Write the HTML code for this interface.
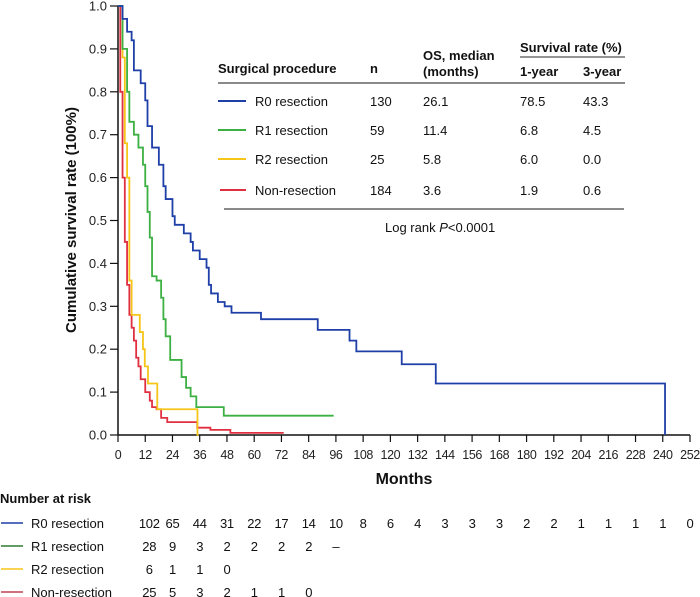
<!DOCTYPE html>
<html><head><meta charset="utf-8"><style>
html,body{margin:0;padding:0;background:#fff;}
svg{display:block;font-family:"Liberation Sans",Arial,sans-serif;}
</style></head><body>
<svg id="chart" width="700" height="597" viewBox="0 0 700 597">
<g id="axes"></g>
<g id="curves"></g>
<g id="legend" font-size="13" fill="#111">
  <text x="218" y="73" font-weight="bold">Surgical procedure</text>
  <text x="370" y="73" font-weight="bold">n</text>
  <text x="423" y="60" font-weight="bold">OS, median</text>
  <text x="423" y="76" font-weight="bold">(months)</text>
  <text x="520" y="52" font-weight="bold">Survival rate (%)</text>
  <line x1="520" y1="57" x2="625" y2="57" stroke="#555" stroke-width="1.2"/>
  <text x="520" y="76" font-weight="bold">1-year</text>
  <text x="583" y="76" font-weight="bold">3-year</text>
  <line x1="218" y1="83" x2="625" y2="83" stroke="#444" stroke-width="1.2"/>
  <g>
    <line x1="218" y1="101" x2="246" y2="101" stroke="#1f3fa8" stroke-width="2"/>
    <text x="255" y="106">R0 resection</text><text x="370" y="106">130</text><text x="423" y="106">26.1</text><text x="520" y="106">78.5</text><text x="583" y="106">43.3</text>
  </g>
  <g>
    <line x1="218" y1="130" x2="246" y2="130" stroke="#3cb043" stroke-width="2"/>
    <text x="255" y="135">R1 resection</text><text x="370" y="135">59</text><text x="423" y="135">11.4</text><text x="520" y="135">6.8</text><text x="583" y="135">4.5</text>
  </g>
  <g>
    <line x1="218" y1="159" x2="246" y2="159" stroke="#f5c518" stroke-width="2"/>
    <text x="255" y="164">R2 resection</text><text x="370" y="164">25</text><text x="423" y="164">5.8</text><text x="520" y="164">6.0</text><text x="583" y="164">0.0</text>
  </g>
  <g>
    <line x1="220" y1="190" x2="246" y2="190" stroke="#e03040" stroke-width="2"/>
    <text x="255" y="195">Non-resection</text><text x="370" y="195">184</text><text x="423" y="195">3.6</text><text x="520" y="195">1.9</text><text x="583" y="195">0.6</text>
  </g>
  <line x1="224" y1="209" x2="624" y2="209" stroke="#444" stroke-width="1.2"/>
  <text x="385" y="232">Log rank <tspan font-style="italic">P</tspan>&lt;0.0001</text>
</g>
<g id="risk" font-size="13" fill="#111"></g>
</svg>
<script>
const xTicks=[0,12,24,36,48,60,72,84,96,108,120,132,144,156,168,180,192,204,216,228,240,252];
const yTicks=[0,0.1,0.2,0.3,0.4,0.5,0.6,0.7,0.8,0.9,1.0];
const r0T=[0,2,4,6,7,10,12,13,15,18,20,21,24,25,29,32,33,36,39,40,41,44,47,50,63,88,102,105,125,140,241];
const r0S=[1,0.97,0.94,0.92,0.85,0.82,0.78,0.72,0.67,0.63,0.58,0.55,0.51,0.49,0.47,0.45,0.43,0.41,0.39,0.35,0.33,0.31,0.30,0.285,0.27,0.245,0.22,0.195,0.165,0.12,0];
const r1T=[0,2,4,5,7,9,11,12,13,14,15,17,19,20,21,23,28,30,32,34.5,46.6,95];
const r1S=[1,0.9,0.8,0.73,0.70,0.67,0.63,0.58,0.52,0.46,0.37,0.36,0.32,0.27,0.23,0.175,0.135,0.11,0.09,0.065,0.045,0.045];
const r2T=[0,2,3,4,5,6,9.6,11,11.8,13.2,17.3,35,35.5];
const r2S=[1,0.88,0.68,0.6,0.36,0.28,0.24,0.2,0.16,0.12,0.06,0,0];
const nrT=[0,1,2,3,4,5,6,7,8,9,10,12,14,15,17,19,21.7,34.9,40.7,49.5,73];
const nrS=[1,0.8,0.6,0.45,0.35,0.28,0.25,0.22,0.18,0.16,0.13,0.10,0.08,0.065,0.06,0.04,0.03,0.017,0.012,0.005,0.005];
const riskGroups=["R0 resection","R1 resection","R2 resection","Non-resection"];
const riskR0=["102","65","44","31","22","17","14","10","8","6","4","3","3","3","2","2","1","1","1","1","0"];
const riskR1=["28","9","3","2","2","2","2","–"];
const riskR2=["6","1","1","0"];
const riskNR=["25","5","3","2","1","1","0"];

const NS="http://www.w3.org/2000/svg";
const X0=118,X1=690,Y0=435,Y1=6;
const xs=t=>X0+(t/252)*(X1-X0);
const ys=s=>Y0-s*(Y0-Y1);
function mk(tag,attrs,parent){const e=document.createElementNS(NS,tag);for(const k in attrs)e.setAttribute(k,attrs[k]);parent.appendChild(e);return e;}
const axes=document.getElementById('axes');
let e=mk('line',{x1:X0,y1:Y1,x2:X0,y2:Y0,stroke:'#111','stroke-width':1.5},axes);


e=mk('line',{x1:X0,y1:Y0,x2:X1,y2:Y0,stroke:'#111','stroke-width':1.5},axes);


yTicks.forEach(v=>{
  mk('line',{x1:110,y1:ys(v),x2:X0,y2:ys(v),stroke:'#111','stroke-width':1.2},axes);
  const t=mk('text',{x:107,y:ys(v)+4.5,'text-anchor':'end','font-size':13,fill:'#222'},axes);
  t.textContent=v.toFixed(1);
  
  
});
xTicks.forEach(v=>{
  mk('line',{x1:xs(v),y1:Y0,x2:xs(v),y2:Y0+7,stroke:'#111','stroke-width':1.2},axes);
  const t=mk('text',{x:xs(v),y:459,'text-anchor':'middle','font-size':12.5,'letter-spacing':-0.4,fill:'#222'},axes);
  t.textContent=v;
  
  
});
e=mk('text',{x:404,y:484,'text-anchor':'middle','font-size':16,'font-weight':'bold',fill:'#111'},axes);
e.textContent='Months';


e=mk('text',{x:0,y:0,'text-anchor':'middle','font-size':15,'font-weight':'bold',fill:'#111',transform:'translate(76,220) rotate(-90)'},axes);
e.textContent='Cumulative survival rate (100%)';



const curves=document.getElementById('curves');
function stepPath(T,S){let d=`M${xs(T[0])},${ys(S[0])}`;for(let i=1;i<T.length;i++){d+=` H${xs(T[i])} V${ys(S[i])}`;}return d;}
[[nrT,nrS,'#e03040','curve-non-resection'],[r2T,r2S,'#f5c518','curve-r2'],[r1T,r1S,'#3cb043','curve-r1'],[r0T,r0S,'#1f3fa8','curve-r0']].forEach(c=>{
  const p=mk('path',{d:stepPath(c[0],c[1]),fill:'none',stroke:c[2],'stroke-width':1.8},curves);
  
  
});

const risk=document.getElementById('risk');
e=mk('text',{x:0,y:503,'font-weight':'bold'},risk);
e.textContent='Number at risk';


const riskCols=['#1f3fa8','#2e7d32','#f5c518','#c04050'];
[riskR0,riskR1,riskR2,riskNR].forEach((row,i)=>{
  const y=528+i*23;
  const g=mk('g',{},risk);
  
  
  mk('line',{x1:1,y1:y-5,x2:23,y2:y-5,stroke:riskCols[i],'stroke-width':1.6},g);
  const lab=mk('text',{x:31,y:y},g);lab.textContent=riskGroups[i];
  row.forEach((v,j)=>{const t=mk('text',{x:xs(12*(j+1))+(j===0?4:0),y:y,'text-anchor':'middle','letter-spacing':-0.3},g);t.textContent=v;});
});
</script>
</body></html>
